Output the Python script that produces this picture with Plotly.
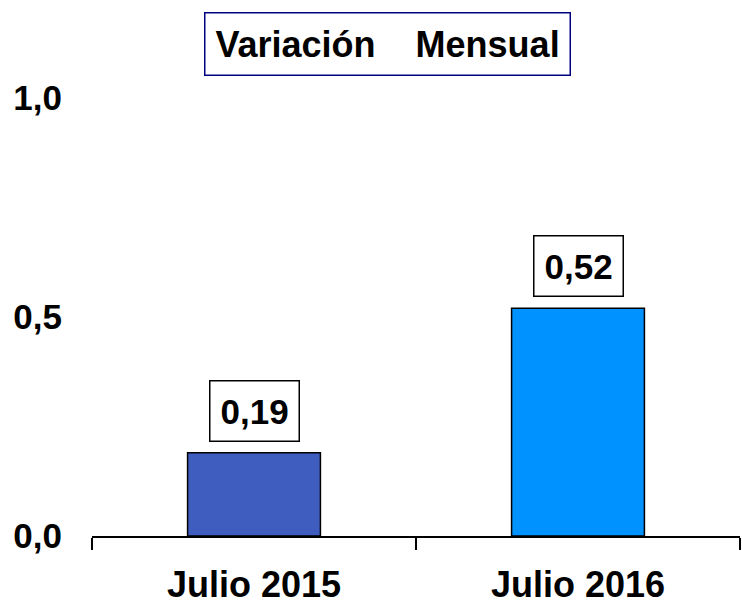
import plotly.graph_objects as go

categories = ["Julio 2015", "Julio 2016"]
values = [0.19, 0.52]
value_labels = ["0,19", "0,52"]
bar_colors = ["#3F5CBF", "#0092FF"]
y_ticks = [0.0, 0.5, 1.0]
title_text = "Variación&nbsp;&nbsp;&nbsp;&nbsp;Mensual"

FONT = "Liberation Sans, Arial, sans-serif"

fig = go.Figure()
fig.add_trace(go.Bar(
    x=categories, y=values, width=0.41,
    marker=dict(color=bar_colors, line=dict(color="black", width=1.5)),
    hoverinfo="skip",
))

for c, v, t in zip(categories, values, value_labels):
    fig.add_annotation(
        x=c, y=v, xref="x", yref="y", text="<b>%s</b>" % t, showarrow=False,
        yanchor="bottom", yshift=11,
        font=dict(family=FONT, size=35, color="black"),
        bordercolor="black", borderwidth=1.5, borderpad=10, bgcolor="white",
    )

fig.add_annotation(
    x=0.456, y=1.196, xref="paper", yref="paper", text="<b>%s</b>" % title_text,
    showarrow=False, xanchor="center", yanchor="top",
    font=dict(family=FONT, size=36, color="black"),
    bordercolor="#000080", borderwidth=1.5, borderpad=10, bgcolor="white",
)

fig.update_layout(
    width=742, height=605,
    margin=dict(l=92, r=2, t=98, b=69),
    paper_bgcolor="white", plot_bgcolor="white",
    separators=",.",
    showlegend=False,
    font=dict(family=FONT, color="black"),
    xaxis=dict(
        range=[-0.5, 1.5], showline=True, linecolor="black", linewidth=2,
        ticks="outside", tickson="boundaries", ticklen=12, tickwidth=1.5, tickcolor="black",
        showgrid=False, zeroline=False, automargin=False,
        tickfont=dict(family=FONT, size=36, color="black"),
        ticklabelstandoff=16,
        tickvals=categories, ticktext=["<b>%s</b>" % c for c in categories],
    ),
    yaxis=dict(
        range=[0, 1], showline=False, showgrid=False, zeroline=False, automargin=False,
        tickvals=y_ticks, tickformat=".1f",
        ticktext=["<b>%s</b>" % ("%.1f" % v).replace(".", ",") for v in y_ticks],
        tickfont=dict(family=FONT, size=35, color="black"),
        ticks="", ticklabelstandoff=29,
    ),
)

fig.write_html("out.html", config={"displayModeBar": False},
               post_script="document.body.style.margin='0';")
